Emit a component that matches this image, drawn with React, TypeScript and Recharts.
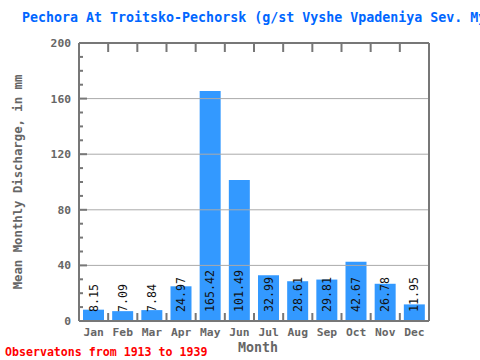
import React from "react";
import { BarChart, Bar, XAxis, YAxis, ReferenceLine, LabelList } from "recharts";

const months = ["Jan", "Feb", "Mar", "Apr", "May", "Jun", "Jul", "Aug", "Sep", "Oct", "Nov", "Dec"];
const discharge = [8.15, 7.09, 7.84, 24.97, 165.42, 101.49, 32.99, 28.61, 29.81, 42.67, 26.78, 11.95];
const yTicks = [0, 10, 20, 30, 40, 50, 60, 70, 80, 90, 100, 110, 120, 130, 140, 150, 160, 170, 180, 190, 200];
const gridValues = [40, 80, 120, 160];

const data = months.map((m, i) => ({ month: m, value: discharge[i] }));

const FONT = "'DejaVu Sans Mono', 'Liberation Mono', monospace";
const AXIS = "#777777";
const TEXT = "#666666";
const W = 480;
const H = 360;
const M = { top: 33, right: 41, bottom: 19, left: 39 };
const PLOT_W = W - 79 - 51;
const PLOT_H = H - 43 - 39;
const BAND = PLOT_W / months.length;

const LeftTick = (props: any) => {
  const { x, y, payload } = props;
  const v = payload.value as number;
  const major = v % 40 === 0;
  return (
    <g>
      <line x1={x} x2={x + (major ? 8 : 4)} y1={y} y2={y} stroke={AXIS} strokeWidth={2} />
      {major && (
        <text x={x - 8} y={y + 4} textAnchor="end" fontFamily={FONT} fontWeight="bold" fontSize={11.3} fill={TEXT}>
          {v}
        </text>
      )}
    </g>
  );
};

const RightTick = (props: any) => {
  const { x, y, payload } = props;
  const v = payload.value as number;
  const major = v % 40 === 0;
  return <line x1={x} x2={x - (major ? 8 : 4)} y1={y} y2={y} stroke={AXIS} strokeWidth={2} />;
};

const BottomTick = (props: any) => {
  const { x, y, payload } = props;
  const idx = months.indexOf(payload.value);
  const bx = x + BAND / 2;
  const top = y - PLOT_H;
  return (
    <g>
      {idx >= 0 && idx < months.length - 1 && (
        <g>
          <line x1={bx} x2={bx} y1={y} y2={y - 8} stroke={AXIS} strokeWidth={2} />
          <line x1={bx} x2={bx} y1={top} y2={top + 9} stroke={AXIS} strokeWidth={2} />
        </g>
      )}
      <text x={x} y={y + 15} textAnchor="middle" fontFamily={FONT} fontWeight="bold" fontSize={11.3} fill={TEXT}>
        {payload.value}
      </text>
    </g>
  );
};

const ValueLabel = (props: any) => {
  const { x, y, width, height, value } = props;
  const cx = x + width / 2 + 4;
  const bottom = y + height - 9;
  return (
    <text
      x={cx}
      y={bottom}
      transform={`rotate(-90 ${cx} ${bottom})`}
      textAnchor="start"
      fontFamily={FONT}
      fontSize={11.6}
      fill="#111111"
    >
      {value}
    </text>
  );
};

export default function App() {
  return (
    <div style={{ position: "absolute", left: 0, top: 0, width: W, height: H, background: "#ffffff" }}>
      <BarChart width={W} height={H} data={data} margin={M}>
        <XAxis
          dataKey="month"
          xAxisId="bottom"
          orientation="bottom"
          height={20}
          tickSize={0}
          tickMargin={0}
          interval={0}
          tick={<BottomTick />}
          axisLine={{ stroke: AXIS, strokeWidth: 2 }}
        />
        <XAxis
          dataKey="month"
          xAxisId="top"
          orientation="top"
          height={10}
          tickSize={0}
          tickMargin={0}
          tick={false}
          axisLine={{ stroke: AXIS, strokeWidth: 2 }}
        />
        <YAxis
          yAxisId="left"
          orientation="left"
          width={40}
          domain={[0, 200]}
          ticks={yTicks}
          interval={0}
          tickSize={0}
          tickMargin={0}
          tick={<LeftTick />}
          axisLine={{ stroke: AXIS, strokeWidth: 2 }}
        />
        <YAxis
          yAxisId="right"
          orientation="right"
          width={10}
          domain={[0, 200]}
          ticks={yTicks}
          interval={0}
          tickSize={0}
          tickMargin={0}
          tick={<RightTick />}
          axisLine={{ stroke: AXIS, strokeWidth: 2 }}
        />
        <Bar dataKey="value" xAxisId="bottom" yAxisId="left" fill="#3399ff" barSize={21} isAnimationActive={false}>
          <LabelList dataKey="value" content={<ValueLabel />} />
        </Bar>
        {gridValues.map((g) => (
          <ReferenceLine key={g} y={g} xAxisId="bottom" yAxisId="left" stroke="#aaaaaa" strokeWidth={1} />
        ))}
        <text x={22} y={22} fontFamily={FONT} fontWeight="bold" fontSize={13.3} fill="#0066ff">
          Pechora At Troitsko-Pechorsk (g/st Vyshe Vpadeniya Sev. Mylvy)
        </text>
        <text
          x={22}
          y={182}
          transform="rotate(-90 22 182)"
          textAnchor="middle"
          fontFamily={FONT}
          fontWeight="bold"
          fontSize={12.3}
          fill={TEXT}
        >
          Mean Monthly Discharge, in mm
        </text>
        <text x={258} y={352} textAnchor="middle" fontFamily={FONT} fontWeight="bold" fontSize={13.3} fill={TEXT}>
          Month
        </text>
        <text x={5} y={356} fontFamily={FONT} fontWeight="bold" fontSize={11.6} fill="#ff0000">
          Observatons from 1913 to 1939
        </text>
      </BarChart>
    </div>
  );
}
